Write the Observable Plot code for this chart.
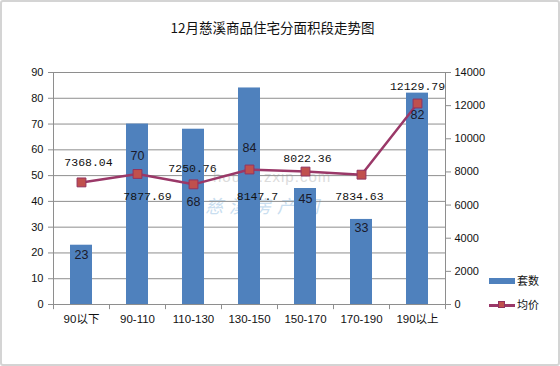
<!DOCTYPE html>
<html>
<head>
<meta charset="utf-8">
<script src="https://cdn.jsdelivr.net/npm/d3@7"></script>
<script src="https://cdn.jsdelivr.net/npm/@observablehq/plot@0.6"></script>
<style>
  html, body { margin: 0; padding: 0; background: #fff; }
  #wrap { position: relative; width: 560px; height: 366px; overflow: hidden; background: #fff; }
  #frame { position: absolute; left: 0; top: 0; width: 556px; height: 362px; border: 2px solid #d4d4d4; border-radius: 3px; pointer-events: none; }
  #title { position: absolute; left: 0; top: 17px; width: 545px; text-align: center; font-family: "Noto Sans CJK SC", sans-serif; font-size: 13.5px; color: #111; }
  #chart { position: absolute; left: 0; top: 40px; }
  .wm1 { position: absolute; left: 213px; top: 168px; font-family: "Liberation Sans", sans-serif; font-size: 15px; color: #dcdcdc; letter-spacing: 1px; }
  .wm2 { position: absolute; left: 205px; top: 192px; font-family: "Noto Sans CJK SC", sans-serif; font-size: 18px; color: #c9def0; font-style: italic; letter-spacing: 6px; }
  #legend { position: absolute; left: 489px; top: 272px; font-family: "Noto Sans CJK SC", sans-serif; font-size: 11px; color: #111; }
  .lg { position: absolute; left: 0; height: 16px; width: 70px; }
  .sw { position: absolute; left: 0; top: 6px; width: 26px; height: 6px; background: #4f81bd; }
  .ln { position: absolute; left: 0; top: 8px; width: 26px; height: 2.5px; background: #9a3868; }
  .mk { position: absolute; left: 9px; top: 5px; width: 7px; height: 7px; background: #c0504d; border: 1px solid #93335f; box-sizing: border-box; }
  .lt { position: absolute; left: 28px; top: 0px; }
</style>
</head>
<body>
<div id="wrap">
  <div id="title">12月慈溪商品住宅分面积段走势图</div>
  <div class="wm1">house.zxip.com</div>
  <div class="wm2">慈溪房产网</div>
  <div id="chart"></div>
  <div id="legend">
    <div class="lg" style="top:0px"><div class="sw"></div><div class="lt">套数</div></div>
    <div class="lg" style="top:24px"><div class="ln"></div><div class="mk"></div><div class="lt">均价</div></div>
  </div>
  <div id="frame"></div>
</div>
<script>
const categories = ["90以下", "90-110", "110-130", "130-150", "150-170", "170-190", "190以上"];
const counts = [23, 70, 68, 84, 45, 33, 82];
const prices = [7368.04, 7877.69, 7250.76, 8147.7, 8022.36, 7834.63, 12129.79];
const leftTicks = [0, 10, 20, 30, 40, 50, 60, 70, 80, 90];
const rightTicks = [0, 2000, 4000, 6000, 8000, 10000, 12000, 14000];

// label placement (pixels), layout only
const barLabelDy = [10, 32, 73, 60, 10, 9, 22];
const priceLabelDx = [7, 10, -1, 8, 2, -2, 0];
const priceLabelDy = [-20, 22, -16, 27, -13, 22, -17];

const k = 90 / 14000;
const data = categories.map((c, i) => ({cat: c, count: counts[i], price: prices[i], i}));

const W = 560, ML = 53, MR = 115;
const halfStep = (W - ML - MR) / categories.length / 2;
const axisColor = "#8e8e8e";

const chart = Plot.plot({
  width: W, height: 326,
  marginLeft: ML, marginRight: MR, marginTop: 32, marginBottom: 62,
  x: {domain: categories, paddingInner: 0.6, paddingOuter: 0.3},
  y: {domain: [0, 90]},
  style: {fontFamily: "'Liberation Sans', 'Noto Sans CJK SC', sans-serif", fontSize: "11px", color: "#111", background: "transparent", overflow: "visible"},
  marks: [
    Plot.gridY(leftTicks, {stroke: axisColor, strokeOpacity: 1}),
    Plot.barY(data, {x: "cat", y: "count", fill: "#4f81bd"}),
    Plot.frame({stroke: axisColor}),
    Plot.axisY({ticks: leftTicks, tickSize: 5, tickPadding: 5, label: null, stroke: axisColor, fill: "#111"}),
    Plot.axisY({anchor: "right", ticks: rightTicks.map(v => v * k), tickFormat: d => String(Math.round(d / k)), tickSize: 5, tickPadding: 4, label: null, stroke: axisColor, fill: "#111"}),
    Plot.axisX({tickSize: 0, tickPadding: 10, label: null, fill: "#111", fontSize: 11.5}),
    Plot.ruleX(data, {x: "cat", y1: 0, y2: -2, dx: -halfStep, stroke: axisColor}),
    Plot.ruleX(data.slice(-1), {x: "cat", y1: 0, y2: -2, dx: halfStep, stroke: axisColor}),
    Plot.line(data, {x: "cat", y: d => d.price * k, stroke: "#9a3868", strokeWidth: 2.5}),
    Plot.dot(data, {x: "cat", y: d => d.price * k, symbol: "square", r: 5, fill: "#c0504d", stroke: "#93335f", strokeWidth: 1}),
    ...data.map((d, i) => Plot.text([d], {x: "cat", y: "count", text: dd => String(dd.count), dy: barLabelDy[i], fontSize: 12.5, fill: "#1a1a2a", fontFamily: "'Liberation Sans', sans-serif"})),
    ...data.map((d, i) => Plot.text([d], {x: "cat", y: dd => dd.price * k, text: dd => String(dd.price), dx: priceLabelDx[i], dy: priceLabelDy[i], fontSize: 11.5, fill: "#111", fontFamily: "'Liberation Mono', monospace"}))
  ]
});
document.getElementById("chart").appendChild(chart);
</script>
</body>
</html>
